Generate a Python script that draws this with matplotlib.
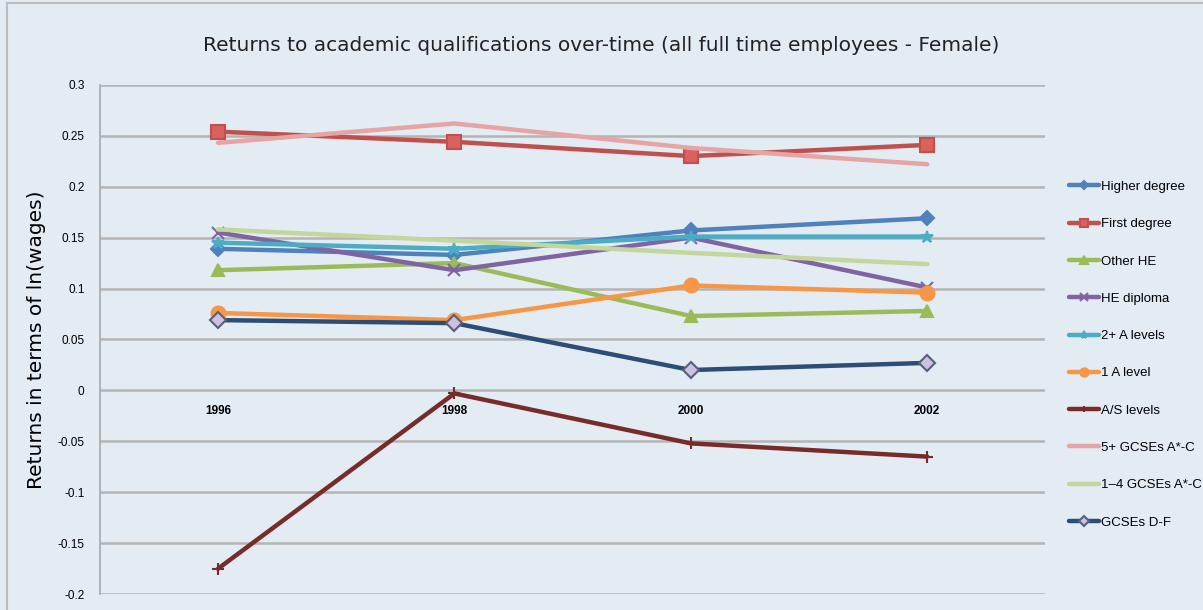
import matplotlib.pyplot as plt
from matplotlib.patches import Rectangle

years = ['1996', '1998', '2000', '2002']

higher_degree = [0.139, 0.133, 0.157, 0.169]
first_degree = [0.254, 0.244, 0.230, 0.241]
other_he = [0.118, 0.125, 0.073, 0.078]
he_diploma = [0.155, 0.118, 0.150, 0.101]
a_levels_2 = [0.145, 0.139, 0.151, 0.151]
a_level_1 = [0.076, 0.069, 0.103, 0.096]
as_levels = [-0.175, -0.003, -0.052, -0.065]
gcse_5 = [0.243, 0.262, 0.238, 0.222]
gcse_1_4 = [0.158, 0.147, 0.135, 0.124]
gcse_df = [0.069, 0.066, 0.020, 0.027]

bg = '#E3EBF3'
narrow = ['Liberation Sans', 'DejaVu Sans']

series = [
    ('Higher degree', higher_degree, '#4F81BD', 'D', '#4F81BD', 7),
    ('First degree', first_degree, '#C0504D', 's', '#D9625F', 10),
    ('Other HE', other_he, '#9BBB59', '^', '#9BBB59', 9),
    ('HE diploma', he_diploma, '#8064A2', 'x', '#8064A2', 9),
    ('2+ A levels', a_levels_2, '#4BACC6', '*', '#4BACC6', 9),
    ('1 A level', a_level_1, '#F79646', 'o', '#F79646', 10),
    ('A/S levels', as_levels, '#772C2A', '+', '#772C2A', 8),
    ('5+ GCSEs A*-C', gcse_5, '#E6A5A4', None, None, 0),
    ('1\u20134 GCSEs A*-C', gcse_1_4, '#C3D69B', None, None, 0),
    ('GCSEs D-F', gcse_df, '#2C4D75', 'D', '#CDC0E0', 8),
]

fig = plt.figure(figsize=(12.03, 6.10), dpi=100, facecolor=bg)
fig.patches.append(Rectangle((0.006, -0.01), 1.0, 1.005, transform=fig.transFigure,
                             fill=False, edgecolor='#BDBDBD', lw=1.5))
ax = fig.add_axes([0.083, 0.026, 0.786, 0.835])
ax.set_facecolor(bg)

x = range(len(years))
for name, vals, col, mk, mfc, ms in series:
    edge = '#55607A' if name == 'GCSEs D-F' else col
    ax.plot(x, vals, color=col, lw=3.2, marker=mk, markersize=ms,
            markerfacecolor=mfc, markeredgecolor=edge,
            markeredgewidth=1.5, label=name, solid_capstyle='round')

ax.set_xlim(-0.5, 3.5)
ax.set_ylim(-0.2, 0.3)
ticks = [0.3, 0.25, 0.2, 0.15, 0.1, 0.05, 0, -0.05, -0.1, -0.15, -0.2]
ax.set_yticks(ticks)
ax.set_yticklabels(['0.3', '0.25', '0.2', '0.15', '0.1', '0.05', '0', '-0.05', '-0.1', '-0.15', '-0.2'],
                   fontsize=8.5, family=narrow)
ax.tick_params(axis='y', length=0, pad=11)
ax.set_xticks([])
ax.grid(axis='y', color='#B4B4B4', lw=1.8)
ax.set_axisbelow(True)
for s in ['top', 'right', 'bottom']:
    ax.spines[s].set_visible(False)
ax.spines['left'].set_color('#A8A8A8')
ax.spines['left'].set_linewidth(1.2)

for i, yr in enumerate(years):
    ax.text(i, -0.02, yr, ha='center', va='center', fontsize=8.5,
            fontweight='bold', family=narrow)

ax.set_ylabel('Returns in terms of ln(wages)', fontsize=14.5, labelpad=8)
fig.text(0.5, 0.925, 'Returns to academic qualifications over-time (all full time employees - Female)',
         ha='center', va='center', fontsize=14.5, color='#222222')

leg = ax.legend(loc='upper left', bbox_to_anchor=(1.012, 0.835), frameon=False,
                prop={'family': narrow, 'size': 9.5}, handlelength=2.3,
                handletextpad=0.15, labelspacing=1.9, markerscale=0.6)

fig.savefig('out.png', dpi=100, facecolor=bg)
